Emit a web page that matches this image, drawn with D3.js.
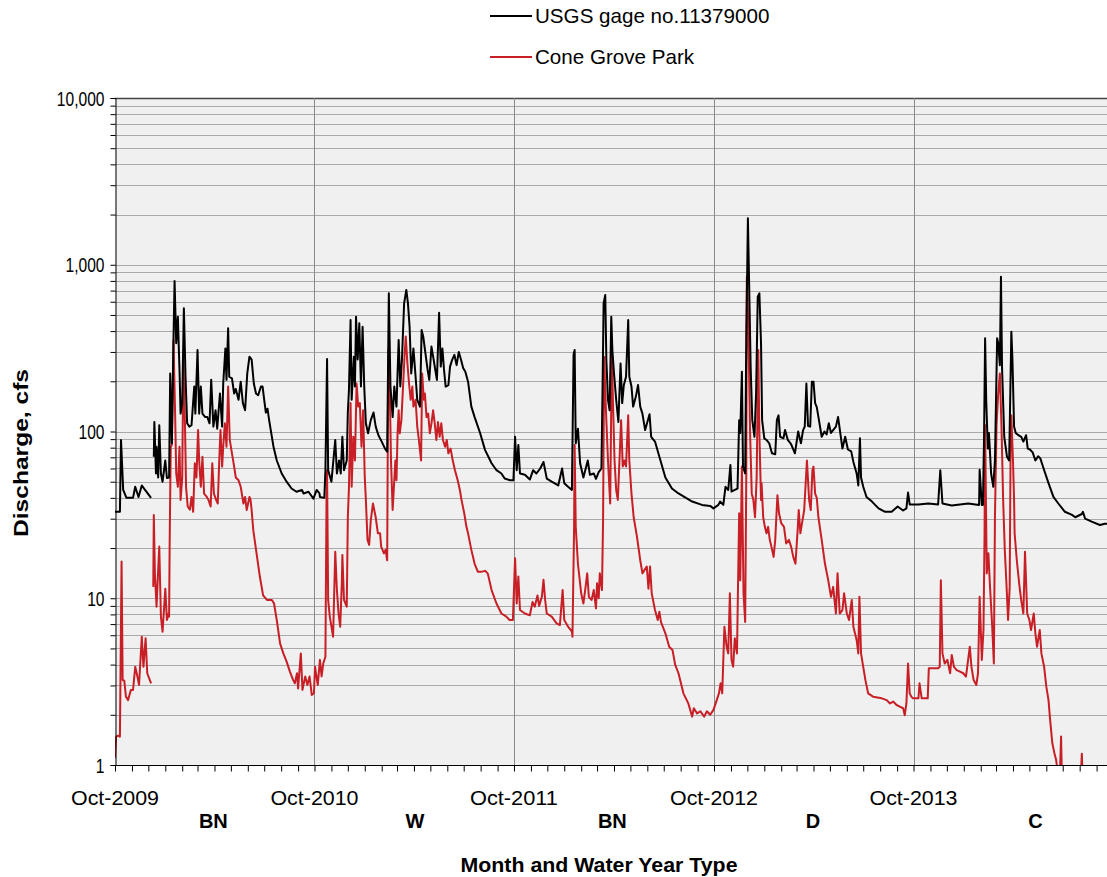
<!DOCTYPE html>
<html><head><meta charset="utf-8">
<script src="https://cdn.jsdelivr.net/npm/d3@7/dist/d3.min.js"></script>
<style>body{margin:0;background:#fff}svg{display:block}</style>
</head><body>
<svg id="chart" width="1107" height="877"></svg>
<script>
// ---------- data ----------
const yearTickLabels = ["Oct-2009", "Oct-2010", "Oct-2011", "Oct-2012", "Oct-2013"];
const waterYears = [2010, 2011, 2012, 2013, 2014];
const waterYearTypes = ["BN", "W", "BN", "D", "C"];
const waterYearTypeDay = [180, 184, 180, 181, 223];   // day of water year under which the type is written
const yTickValues = [1, 10, 100, 1000, 10000];
const seriesNames = ["USGS gage no.11379000", "Cone Grove Park"];

// [day of water year, discharge cfs]; null = no record
const usgs2010 = [[0,33],[9,33],[11,89],[15,44.6],[21,40],[33,40],[37,46.6],[43,40.5],[49,47.5],[55,44.6],[66,40],[67,null],
 [71,70.6],[72,114],[75,56],[76,81],[79,53],[81,109],[84,56],[87,50],[92,67],[95,52.6],[99,53],[101,223],[104,85],[107,354],
 [109,800],[112,338],[115,488],[118,234],[120,128],[123,148],[126,548],[129,213],[132,112],[136,107],[140,109],[145,186],
 [147,128],[151,308],[154,128],[157,186],[160,128],[165,122],[169,122],[173,112],[176,204],[180,107],[184,134],[187,104],
 [192,169],[196,107],[198,194],[202,315],[204,204],[207,416],[209,213],[214,208],[218,169],[221,180],[226,155],[230,199],
 [234,148],[238,134],[242,223],[246,281],[250,270],[254,194],[258,169],[262,165],[267,186],[270,186],[273,155],[276,130],
 [279,137],[282,117],[290,81],[296,67],[305,56],[314,50],[323,45.5],[332,43.5],[342,44.6],[345,42.5],[354,43.5],[363,39.6]];
const usgs2011 = [[4,44.6],[9,42.5],[10,40.5],[18,40],[20,58.6],[23,272],[25,58.6],[31,50],[38,89],[41,56],[45,67],[48,56],
 [51,93],[54,58.6],[59,67],[61,130],[63,176],[66,466],[68,155],[72,281],[74,186],[76,488],[79,270],[82,446],[85,186],[88,425],
 [91,186],[94,112],[98,97.6],[103,117],[108,130],[112,107],[117,95],[123,87],[129,79],[133,75.6],[136,674],[139,186],[143,122],
 [146,186],[150,141],[154,354],[157,186],[160,270],[164,587],[168,706],[171,587],[174,425],[177,223],[181,315],[185,213],
 [188,155],[193,141],[196,406],[199,370],[203,294],[207,234],[210,204],[214,323],[218,270],[221,234],[224,204],[228,515],
 [231,245],[234,315],[237,234],[240,186],[245,190],[248,245],[252,270],[256,288],[260,250],[264,300],[268,270],[272,240],
 [276,228],[281,199],[287,141],[293,122],[303,98],[312,77.6],[324,64.5],[333,58.6],[342,56],[348,52.2],[358,51],[364,51]];
const usgs2012 = [[2,93],[5,58.6],[8,83],[11,56],[20,55],[29,51.5],[35,58.6],[41,56],[48,60],[54,65.7],[60,52.2],[69,50],
 [81,47.5],[88,60],[92,49],[99,46.6],[106,44.6],[109,288],[111,308],[113,85],[117,104],[121,64.5],[127,53],[135,67],[139,55],
 [146,56],[150,52],[155,57],[160,60],[162,176],[164,587],[167,658],[169,270],[172,155],[175,134],[178,488],[180,308],[183,223],
 [187,155],[191,114],[195,256],[198,148],[201,190],[205,213],[209,466],[211,213],[215,186],[218,141],[223,162],[227,190],
 [231,141],[235,128],[240,102],[248,127],[251,93],[258,87],[268,67],[277,53],[289,45.5],[301,42.5],[317,39.6],[326,38],
 [344,36.3],[359,35.8],[365,34.6]];
const usgs2013 = [[8,36.3],[11,38],[17,36.3],[21,46.6],[26,44.6],[30,63],[32,43.6],[38,44.6],[43,45.5],[46,117],[48,98],
 [51,228],[53,61.6],[57,56],[59,354],[62,1898],[64,848],[67,245],[70,117],[74,93],[77,169],[80,644],[83,674],[86,338],[88,117],
 [92,91],[96,89],[101,85],[106,74],[112,73],[115,117],[118,125],[121,93],[127,91],[130,102],[135,89],[141,84],[148,74],
 [154,100],[159,85],[163,102],[166,107],[169,194],[172,108],[176,107],[179,199],[182,199],[185,148],[188,140],[192,117],
 [197,93],[202,100],[206,96],[210,112],[214,98],[218,102],[223,107],[227,122],[231,98],[235,79],[240,93],[245,78],[251,76],
 [255,65.7],[261,56],[264,47.5],[267,91],[269,53],[273,46.6],[279,40.5],[289,38],[301,34.6],[313,33],[325,33],[336,35.5],
 [346,33.6],[352,34.6],[355,43],[358,36.5]];
const usgs2014 = [[9,36.5],[27,37],[45,36.5],[49,58.6],[53,37],[70,36],[100,37],[120,36.3],[121,59],[125,36.3],[127,36.3],
 [129,89],[131,362],[133,155],[136,79],[138,98],[142,56],[146,46.6],[149,67],[153,362],[155,338],[158,250],[160,848],[162,240],
 [166,93],[171,70.6],[175,67],[179,397],[181,270],[184,107],[187,98],[192,95],[197,93],[201,87],[206,95],[209,79],[213,78],
 [218,75],[223,67],[228,71],[232,69],[238,60],[247,49],[256,40.5],[265,37],[277,33],[290,31.6],[296,30.6],[308,32],[310,33],
 [314,30],[326,28.8],[341,27.5],[350,28],[364,27.8]];

const cone2010 = [[0,1.1],[2,1.48],[6,1.5],[9,1.48],[12,16.6],[14,3.23],[17,3.2],[20,2.57],[24,2.45],[29,2.82],[33,2.82],
 [37,3.88],[41,3.39],[44,3.02],[49,5.88],[52,3.88],[56,5.75],[59,3.55],[66,3.09],[67,null],
 [70,11.7],[71,31.6],[73,14],[76,8.9],[79,14.8],[81,20.4],[84,7.76],[87,6.3],[90,8.9],[92,11.4],[95,7.4],[98,8.1],[99,7.76],
 [100,21.3],[102,81],[104,83],[107,354],[110,128],[112,56],[115,46.6],[118,81],[120,38.9],[123,53],[125,256],[128,112],
 [130,46.6],[133,35.5],[137,34],[140,40.5],[143,33],[146,64.5],[149,53],[152,102],[154,67],[157,46.6],[160,70.6],[163,42.4],
 [168,40.5],[171,38.9],[175,35.5],[178,64.5],[181,42.4],[185,38.9],[188,37],[191,70.6],[193,102],[196,61.6],[198,81],
 [201,112],[204,81],[207,186],[210,89],[214,74],[218,61.6],[221,53],[226,51],[230,46.6],[235,37],[238,40.5],[241,33.8],
 [246,40.5],[248,38.9],[250,33.8],[253,25.6],[259,18.6],[265,13.5],[271,10.4],[278,9.77],[287,9.77],[291,9.3],[296,7.4],
 [302,5.36],[308,4.67],[314,4.17],[320,3.63],[326,3.23],[329,3.09],[333,3.55],[335,2.88],[340,4.67],[343,2.82],[348,3.39],
 [352,3.02],[356,3.39],[360,2.63],[364,2.7]];
const cone2011 = [[1,3.88],[6,3.02],[10,4.27],[13,3.4],[16,4.06],[20,4.46],[22,38.9],[23,58.6],[25,9.77],[28,7.76],[34,5.88],
 [38,19],[41,11.2],[44,8.12],[47,6.75],[50,12.3],[51,18.2],[54,9.77],[59,8.9],[61,30.6],[63,45.5],[66,148],[68,46.6],[71,93],
 [74,67],[77,194],[80,141],[83,148],[86,81],[89,134],[92,53],[94,38.9],[97,22.4],[100,20.9],[103,29.4],[107,37],[112,30.6],
 [116,24.5],[120,24.5],[122,20.4],[127,18.6],[130,19.5],[133,16.9],[135,308],[138,155],[140,67],[143,33.8],[145,44.6],
 [148,67],[150,51],[152,97.6],[154,134],[156,97.6],[159,117],[162,186],[165,294],[167,371],[170,256],[173,194],[176,155],
 [179,186],[181,141],[185,155],[188,107],[191,89],[195,67],[197,223],[200,155],[202,169],[205,122],[208,128],[211,97.6],
 [214,112],[217,134],[220,112],[223,89],[226,114],[229,93],[232,112],[235,89],[239,81],[242,89],[245,74],[249,79],[253,67],
 [257,58.6],[262,51],[266,44.6],[269,38.9],[274,32.3],[278,26.8],[281,24.5],[287,19.5],[293,16.1],[299,14.4],[305,14.4],
 [312,14.6],[317,14.1],[324,11.2],[333,9.3],[342,8.1],[351,7.76],[357,7.4],[363,7.4]];
const cone2012 = [[2,17.4],[5,9.3],[8,13.5],[11,8.5],[20,8.1],[29,7.9],[34,9.5],[38,8.9],[43,10.4],[46,9],[51,10.2],[54,12.9],
 [57,9.77],[60,8.1],[69,7.76],[78,7.07],[84,6.9],[89,11.2],[92,7.4],[99,6.75],[106,6.3],[107,5.88],[110,26.8],[111,83],
 [113,26.8],[117,16.1],[123,10.7],[127,9.3],[131,11.7],[134,14.1],[137,10.2],[142,9.77],[146,11.2],[150,8.7],[152,12.3],
 [155,10],[157,14.1],[161,11.2],[163,29.4],[165,281],[168,141],[172,67],[176,37],[179,288],[181,155],[184,67],[187,44.6],
 [190,38.9],[193,67],[196,117],[199,61.6],[202,67],[205,61.6],[209,125],[211,67],[215,42.4],[219,30.6],[225,23.4],[231,16.9],
 [235,14.1],[239,14.8],[243,15.5],[246,11.4],[249,15.5],[252,10.7],[258,8.5],[263,7.4],[266,8.3],[269,7.2],[277,6.16],
 [284,5.12],[290,4.9],[295,3.98],[301,3.55],[310,2.69],[319,2.34],[326,1.95],[329,2.19],[335,2.04],[341,2.1],[348,1.95],
 [353,2.1],[359,2.0],[365,2.14]];
const cone2013 = [[5,2.45],[9,2.69],[12,3.09],[15,2.69],[19,6.75],[23,5.12],[26,4.67],[29,10.7],[32,4.27],[35,3.88],[38,5.75],
 [42,4.67],[46,32.3],[48,12.8],[51,61.6],[54,10.7],[57,7.2],[59,53],[60,848],[63,386],[66,97.6],[69,42.4],[72,38.9],[75,30.6],
 [78,53],[81,308],[83,97.6],[86,38.9],[87,49],[90,30.6],[93,26.8],[96,24.5],[99,26.8],[102,22.4],[105,20.4],[109,17.7],
 [112,22.4],[116,41.5],[119,32.3],[123,28.2],[128,26.8],[132,21.3],[137,22.4],[141,20.4],[145,17.7],[149,16.1],[153,25.6],
 [155,33.8],[158,24.5],[161,28.2],[165,33.8],[168,51],[170,67],[174,38.9],[177,33.8],[180,58.6],[182,61.6],[185,42.4],
 [188,40],[191,30.6],[197,22.4],[203,16.1],[209,12.8],[214,10.2],[218,11.7],[223,8.1],[226,14.1],[230,8.1],[235,8.5],
 [238,10.7],[243,8.1],[247,7.4],[252,9.77],[255,6.75],[261,5.6],[264,4.67],[266,10.2],[269,4.67],[273,3.88],[277,3.23],
 [282,2.69],[291,2.57],[307,2.51],[316,2.45],[322,2.34],[328,2.4],[334,2.29],[340,2.24],[346,2.19],[349,1.99],[352,2.34],
 [355,4.06],[358,2.69],[361,2.57],[364,2.51]];
const cone2014 = [[9,2.51],[11,3.09],[15,2.51],[26,2.51],[28,3.8],[45,3.8],[48,3.88],[50,12.8],[53,4.67],[57,4.06],[62,4.27],
 [67,3.55],[70,4.57],[74,3.88],[79,3.71],[85,3.63],[91,3.55],[96,3.39],[103,5.12],[106,3.88],[110,3.23],[115,3.02],[118,3.55],
 [121,10.2],[125,4.27],[128,6.45],[130,24.5],[131,109],[134,14.1],[137,18.6],[140,11.7],[144,6.75],[147,4.06],[149,30.6],
 [152,112],[155,169],[158,223],[161,107],[164,38.9],[167,19.5],[170,12.3],[173,7.4],[176,11.7],[178,122],[179,125],[182,67],
 [184,38.9],[185,24.5],[189,16.9],[194,11.7],[197,9.77],[201,8.1],[204,19],[208,8.1],[212,7.4],[215,6.45],[220,8.1],
 [223,6.16],[226,5.12],[231,6.45],[234,4.67],[239,3.88],[243,2.95],[247,2.45],[250,1.86],[254,1.35],[258,1.17],[261,1.07],
 [264,0.9],[267,0.7],[270,1.48],[272,0.7],[305,0.7],[308,1.17],[310,0.7],[364,0.7]];

const usgsByYear = [usgs2010, usgs2011, usgs2012, usgs2013, usgs2014];
const coneByYear = [cone2010, cone2011, cone2012, cone2013, cone2014];

// ---------- build ----------
const wyStart = wy => new Date(wy - 1, 9, 1);
function toSeries(byYear) {
  const out = [];
  byYear.forEach((rows, i) => rows.forEach(([d, q]) =>
    out.push({date: d3.timeDay.offset(wyStart(waterYears[i]), d), q})));
  return out;
}
const usgs = toSeries(usgsByYear);
const cone = toSeries(coneByYear);

const plot = {left: 115, top: 98, bottom: 765, right: 1107};
const svg = d3.select("#chart");
const FONT = "'Liberation Sans', Arial, sans-serif";
const RED = "#c81e25";

const x = d3.scaleTime()
  .domain([wyStart(waterYears[0]), new Date(waterYears[waterYears.length - 1], 9, 1)])
  .range([115, 1113]);
const y = d3.scaleLog().domain([yTickValues[0], yTickValues[yTickValues.length - 1]]).range([plot.bottom, plot.top]);

// background
svg.append("rect").attr("x", plot.left).attr("y", plot.top)
  .attr("width", plot.right - plot.left).attr("height", plot.bottom - plot.top).attr("fill", "#f0f0f0");

// horizontal grid (all 1..9 x 10^k)
const minorVals = [];
for (let k = 0; k < 4; k++) for (let m = 1; m <= 9; m++) minorVals.push(m * Math.pow(10, k));
minorVals.push(10000);
svg.append("g").selectAll("line").data(minorVals.filter(v => v > 1)).join("line")
  .attr("x1", plot.left).attr("x2", plot.right)
  .attr("y1", d => Math.round(y(d)) + 0.5).attr("y2", d => Math.round(y(d)) + 0.5)
  .attr("stroke", d => d === 10000 ? "#444" : "#a9a9a9").attr("stroke-width", d => d === 10000 ? 1.5 : 1);

// vertical year grid
const yearDates = waterYears.map(wyStart);
svg.append("g").selectAll("line").data(yearDates.slice(1)).join("line")
  .attr("x1", d => Math.round(x(d)) + 0.5).attr("x2", d => Math.round(x(d)) + 0.5)
  .attr("y1", plot.top).attr("y2", plot.bottom).attr("stroke", "#8a8a8a").attr("stroke-width", 1);

// clip
svg.append("clipPath").attr("id", "clip").append("rect")
  .attr("x", plot.left).attr("y", plot.top).attr("width", plot.right - plot.left).attr("height", plot.bottom - plot.top);

const line = d3.line().defined(d => d.q !== null).x(d => x(d.date)).y(d => y(d.q));
const g = svg.append("g").attr("clip-path", "url(#clip)");
g.append("path").datum(cone).attr("d", line).attr("fill", "none")
  .attr("stroke", RED).attr("stroke-width", 2).attr("stroke-linejoin", "round");
g.append("path").datum(usgs).attr("d", line).attr("fill", "none")
  .attr("stroke", "#000").attr("stroke-width", 2).attr("stroke-linejoin", "round");

// left axis
const yAxis = d3.axisLeft(y).tickValues(minorVals).tickSize(5)
  .tickFormat(d => yTickValues.includes(d) ? d3.format(",")(d) : "");
const ya = svg.append("g").attr("transform", `translate(${plot.left + 0.5},0)`).call(yAxis);
ya.select(".domain").attr("stroke", "#000");
ya.selectAll(".tick line").attr("stroke", "#000");
ya.selectAll("text").attr("font-family", FONT).attr("font-size", 20).attr("fill", "#000")
  .attr("x", 0).attr("dy", "0.36em").attr("transform", "translate(-11,0) scale(0.78,1)");

// bottom axis (monthly ticks)
const months = d3.timeMonth.range(x.domain()[0], x.domain()[1]).filter(d => x(d) <= plot.right);
const xAxis = d3.axisBottom(x).tickValues(months).tickSize(6).tickFormat("");
const xa = svg.append("g").attr("transform", `translate(0,${plot.bottom + 0.5})`).call(xAxis);
xa.select(".domain").attr("stroke", "#000").attr("d", `M${plot.left},0H${plot.right}`);
xa.selectAll(".tick line").attr("stroke", "#000");

// year labels
svg.append("g").selectAll("text").data(yearDates).join("text")
  .attr("x", d => x(d)).attr("y", 805).attr("text-anchor", "middle")
  .attr("font-family", FONT).attr("font-size", 21).attr("fill", "#000")
  .attr("textLength", 88).attr("lengthAdjust", "spacingAndGlyphs")
  .text((d, i) => yearTickLabels[i]);

// water-year type labels
svg.append("g").selectAll("text").data(waterYearTypes).join("text")
  .attr("x", (d, i) => x(d3.timeDay.offset(wyStart(waterYears[i]), waterYearTypeDay[i])))
  .attr("y", 828).attr("text-anchor", "middle")
  .attr("font-family", FONT).attr("font-size", 20).attr("font-weight", "bold").attr("fill", "#000")
  .text(d => d);

// axis titles
svg.append("text").attr("x", 599).attr("y", 872).attr("text-anchor", "middle")
  .attr("font-family", FONT).attr("font-size", 20).attr("font-weight", "bold")
  .attr("textLength", 277).attr("lengthAdjust", "spacingAndGlyphs").text("Month and Water Year Type");
svg.append("text").attr("transform", "translate(28,453) rotate(-90)").attr("text-anchor", "middle")
  .attr("font-family", FONT).attr("font-size", 20).attr("font-weight", "bold")
  .attr("textLength", 168).attr("lengthAdjust", "spacingAndGlyphs").text("Discharge, cfs");

// legend
const legendColors = ["#000", RED];
const lg = svg.append("g");
seriesNames.forEach((name, i) => {
  const ly = 16 + i * 41;
  lg.append("line").attr("x1", 490).attr("x2", 532).attr("y1", ly).attr("y2", ly)
    .attr("stroke", legendColors[i]).attr("stroke-width", 2);
  lg.append("text").attr("x", 535).attr("y", ly + 7).attr("font-family", FONT).attr("font-size", 20.6)
    .attr("fill", "#000").text(name);
});
</script>
</body></html>
